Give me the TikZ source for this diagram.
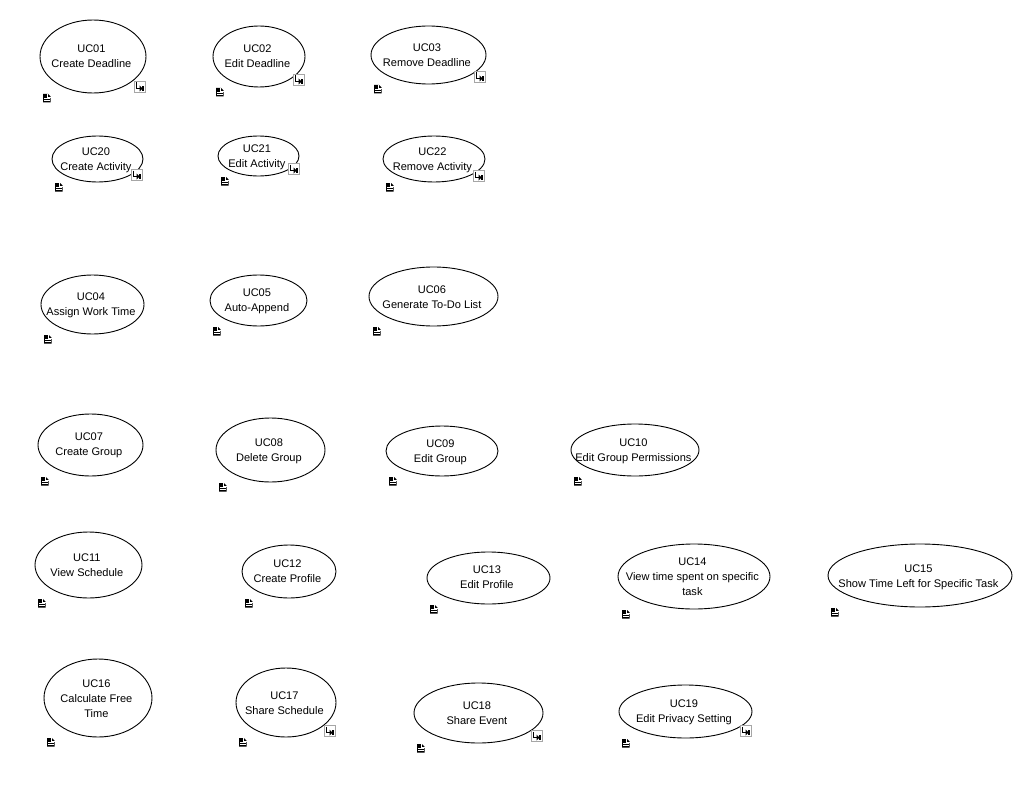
\documentclass[tikz,border=0pt]{standalone}
\usepackage{fontspec}
\setmainfont{Liberation Sans}
\usetikzlibrary{shapes.geometric}
\tikzset{
  ucase/.style={draw=black,line width=0.9pt,ellipse,inner sep=0pt,outer sep=0pt},
  uctext/.style={font=\fontsize{11.05}{15}\selectfont,align=center,inner sep=0pt},
}
\newcommand{\notepic}[2]{%
  \fill[black] (#1,#2) -- ++(5,0) -- ++(2.5,2.5) -- ++(0,6) -- ++(-7.5,0) -- cycle;
  \draw[white,line width=0.45pt] (#1+4.6,#2) -- ++(0,2.8) -- ++(3,0);
  \draw[white,line width=0.45pt] (#1+1,#2+4.6) -- ++(5.5,0) (#1+1,#2+6.5) -- ++(5.5,0);
}
\newcommand{\linkpic}[2]{%
  \draw[black!35,fill=white,line width=0.6pt] (#1,#2) rectangle ++(11,11);
  \draw[black,line width=0.8pt] (#1+2.5,#2+1.5) -- ++(0,6) -- ++(4,0);
  \fill[black] (#1+5.5,#2+4.5) -- ++(3,3) -- ++(-3,3) -- cycle;
  \fill[black] (#1+8,#2+5) rectangle ++(2,5);
}
% name, x1, x2, y1, y2, text offset, text
\newcommand{\uc}[7]{%
  \node[ucase,minimum width=#3pt-#2pt,minimum height=#5pt-#4pt] (#1) at ({(#2+#3)/2},{(#4+#5)/2}) {};
  \node[uctext] (#1t) at ({(#2+#3)/2-1.6},{(#4+#5)/2-0.5+#6}) {#7};
}
\begin{document}
\begin{tikzpicture}[x=1pt,y=-1pt]
\useasboundingbox (0,0) rectangle (1027,789);
\uc{uc01}{40}{146}{20}{93}{0}{UC01\\Create Deadline}
\uc{uc02}{213}{305}{26}{87}{0}{UC02\\Edit Deadline}
\uc{uc03}{371}{486}{26}{84}{1}{UC03\\Remove Deadline}
\uc{uc20}{52}{143}{136}{182}{2}{UC20\\Create Activity}
\uc{uc21}{218}{299}{136}{176}{2}{UC21\\Edit Activity}
\uc{uc22}{383}{485}{136}{182}{2}{UC22\\Remove Activity}
\uc{uc04}{41}{144}{275}{334}{1}{UC04\\Assign Work Time}
\uc{uc05}{210}{307}{275}{326}{1}{UC05\\Auto-Append}
\uc{uc06}{369}{498}{267}{326}{1}{UC06\\Generate To-Do List}
\uc{uc07}{38}{143}{414}{476}{1}{UC07\\Create Group}
\uc{uc08}{216}{325}{418}{482}{2}{UC08\\Delete Group}
\uc{uc09}{386}{498}{426}{476}{1.5}{UC09\\Edit Group}
\uc{uc10}{571}{699}{424}{476}{2}{UC10\\Edit Group Permissions}
\uc{uc11}{35}{142}{532}{598}{1}{UC11\\View Schedule}
\uc{uc12}{242}{336}{545}{598}{0}{UC12\\Create Profile}
\uc{uc13}{427}{550}{552}{604}{0}{UC13\\Edit Profile}
\uc{uc14}{618}{770}{544}{609}{1}{UC14\\View time spent on specific\\task}
\uc{uc15}{828}{1012}{544}{607}{2}{UC15\\Show Time Left for Specific Task}
\uc{uc16}{44}{152}{659}{737}{1}{UC16\\Calculate Free\\Time}
\uc{uc17}{236}{336}{668}{737}{1}{UC17\\Share Schedule}
\uc{uc18}{414}{543}{683}{743}{1}{UC18\\Share Event}
\uc{uc19}{619}{752}{685}{738}{1}{UC19\\Edit Privacy Setting}
\notepic{43}{94}\notepic{216}{88}\notepic{374}{85}
\notepic{55}{183}\notepic{221}{177}\notepic{386}{183}
\notepic{44}{335}\notepic{213}{327}\notepic{373}{327}
\notepic{41}{477}\notepic{219}{483}\notepic{389}{477}\notepic{574}{477}
\notepic{38}{599}\notepic{245}{599}\notepic{430}{605}\notepic{622}{610}\notepic{831}{608}
\notepic{47}{738}\notepic{239}{738}\notepic{417}{744}\notepic{622}{739}
\linkpic{134}{81}\linkpic{293}{74}\linkpic{474}{71}
\linkpic{131}{169}\linkpic{288}{163}\linkpic{473}{170}
\linkpic{324}{725}\linkpic{531}{730}\linkpic{740}{725}
\end{tikzpicture}
\end{document}
